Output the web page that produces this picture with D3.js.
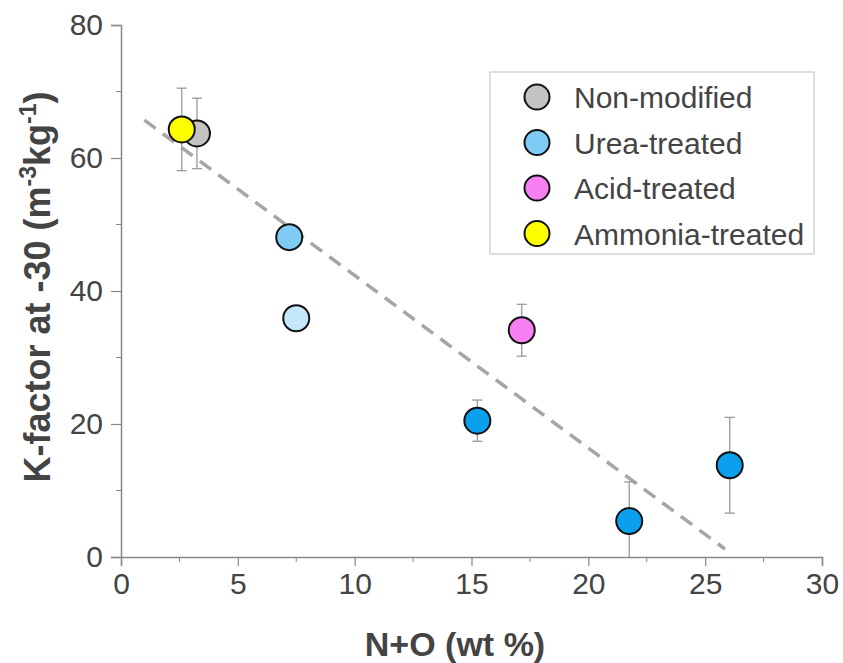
<!DOCTYPE html>
<html>
<head>
<meta charset="utf-8">
<script src="https://cdn.jsdelivr.net/npm/d3@7"></script>
<style>
  body { margin: 0; background: #fff; }
  svg { font-family: "Liberation Sans", Arial, sans-serif; }
  .tick text { fill: #444; font-size: 30px; }
</style>
</head>
<body>
<div id="chart"></div>
<script>
// group legend
const groups = ['Non-modified', 'Urea-treated', 'Acid-treated', 'Ammonia-treated']
const groupColors = ['#c3c3c3', '#7ecbf6', '#f77ff2', '#ffff00']

// points: N+O (wt %), K-factor, error, fill
const nO = [2.6, 3.25, 7.2, 7.5, 17.15, 15.25, 21.75, 26.05]
const kFactor = [64.3, 63.7, 48.1, 35.9, 34.1, 20.5, 5.4, 13.8]
const kErr = [6.2, 5.3, 0, 0, 3.9, 3.1, 5.9, 7.2]
const pointColors = ['#ffff00', '#c3c3c3', '#7ecbf6', '#c4e7fb', '#f77ff2', '#0aa0ee', '#0aa0ee', '#0aa0ee']
const drawOrder = [1, 0, 2, 3, 4, 5, 6, 7]

// dashed trend line
const trendX = [1.0, 25.85]
const trendY = [65.7, 1.2]

const xTicks = [0, 5, 10, 15, 20, 25, 30]
const yTicks = [0, 20, 40, 60, 80]

const W = 843, H = 663
const m = { left: 121, right: 21, top: 25, bottom: 106 }

const svg = d3.select('#chart').append('svg').attr('width', W).attr('height', H)

const x = d3.scaleLinear().domain([0, 30]).range([m.left, W - m.right])
const y = d3.scaleLinear().domain([0, 80]).range([H - m.bottom, m.top])

const axisColor = '#888'

// minor ticks
const xMinor = d3.range(2.5, 30, 5)
const yMinor = d3.range(10, 80, 20)

const gx = svg.append('g').attr('transform', `translate(0,${y(0)})`)
  .call(d3.axisBottom(x).tickValues(xTicks).tickSize(9).tickPadding(7))
gx.append('g').selectAll('line').data(xMinor).join('line')
  .attr('x1', d => x(d)).attr('x2', d => x(d)).attr('y1', 0).attr('y2', 5)
  .attr('stroke', axisColor)

const gy = svg.append('g').attr('transform', `translate(${x(0)},0)`)
  .call(d3.axisLeft(y).tickValues(yTicks).tickSize(10).tickPadding(8))
gy.append('g').selectAll('line').data(yMinor).join('line')
  .attr('y1', d => y(d)).attr('y2', d => y(d)).attr('x1', 0).attr('x2', -5)
  .attr('stroke', axisColor)

svg.selectAll('.domain').attr('stroke', axisColor).attr('stroke-width', 1.5)
svg.selectAll('.tick line').attr('stroke', axisColor).attr('stroke-width', 1.2)

// axis labels
svg.append('text')
  .attr('x', 455).attr('y', 656)
  .attr('text-anchor', 'middle')
  .attr('font-size', 34).attr('font-weight', 'bold').attr('fill', '#444')
  .text('N+O (wt %)')

const yl = svg.append('text')
  .attr('transform', `translate(50,287) rotate(-90)`)
  .attr('text-anchor', 'middle')
  .attr('font-size', 36).attr('font-weight', 'bold').attr('fill', '#444')
yl.append('tspan').text('K-factor at -30 (m')
yl.append('tspan').attr('font-size', 23).attr('dy', -14).text('-3')
yl.append('tspan').attr('dy', 14).text('kg')
yl.append('tspan').attr('font-size', 23).attr('dy', -14).text('-1')
yl.append('tspan').attr('dy', 14).text(')')

// trend line
svg.append('line')
  .attr('x1', x(trendX[0])).attr('y1', y(trendY[0]))
  .attr('x2', x(trendX[1])).attr('y2', y(trendY[1]))
  .attr('stroke', '#a6a6a6').attr('stroke-width', 3.5)
  .attr('stroke-dasharray', '14,9')

// error bars
const errG = svg.append('g').attr('stroke', '#999').attr('stroke-width', 1.3)
drawOrder.forEach(i => {
  if (!kErr[i]) return
  const lo = Math.max(0, kFactor[i] - kErr[i]), hi = kFactor[i] + kErr[i]
  const cx = x(nO[i])
  errG.append('line').attr('x1', cx).attr('x2', cx).attr('y1', y(lo)).attr('y2', y(hi))
  errG.append('line').attr('x1', cx - 5).attr('x2', cx + 5).attr('y1', y(hi)).attr('y2', y(hi))
  if (kFactor[i] - kErr[i] > 0)
    errG.append('line').attr('x1', cx - 5).attr('x2', cx + 5).attr('y1', y(lo)).attr('y2', y(lo))
})

// points
svg.append('g').selectAll('circle').data(drawOrder).join('circle')
  .attr('cx', i => x(nO[i])).attr('cy', i => y(kFactor[i]))
  .attr('r', 13)
  .attr('fill', i => pointColors[i])
  .attr('stroke', '#111').attr('stroke-width', 2)

// legend
const lg = svg.append('g').attr('transform', 'translate(490,72)')
lg.append('rect').attr('width', 324).attr('height', 182)
  .attr('fill', '#fff').attr('stroke', '#d4d4d4').attr('stroke-width', 1.5)
groups.forEach((g, i) => {
  const row = lg.append('g').attr('transform', `translate(0,${25 + i * 45.5})`)
  row.append('circle').attr('cx', 47).attr('cy', 0).attr('r', 12.5)
    .attr('fill', groupColors[i]).attr('stroke', '#111').attr('stroke-width', 2)
  row.append('text').attr('x', 84).attr('y', 11)
    .attr('font-size', 30).attr('fill', '#444').text(g)
})
</script>
</body>
</html>
